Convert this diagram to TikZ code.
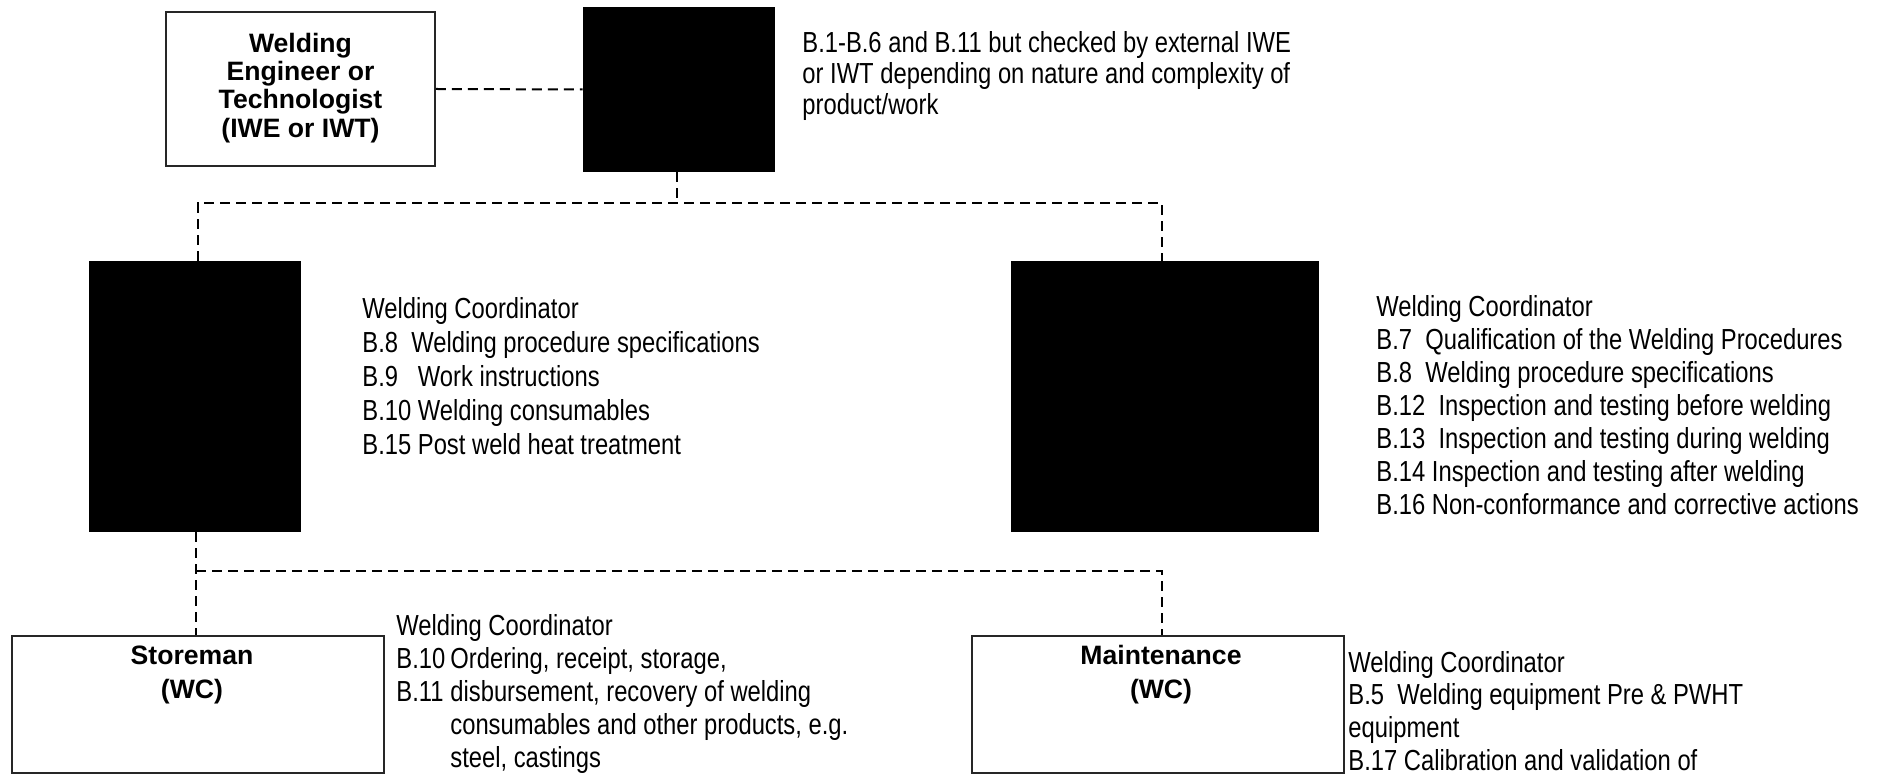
\documentclass[tikz,border=0pt]{standalone}
\usepackage{fontspec}
\setmainfont{Liberation Sans}
\newfontfamily\nf{Liberation Sans}[FakeStretch=0.82]
\begin{document}
\begin{tikzpicture}[x=0.5pt,y=-0.5pt,
  rbox/.style={draw=black!85, line width=0.8pt, inner sep=0pt, fill=white},
  blk/.style={fill=black, draw=none, inner sep=0pt},
  conn/.style={line width=1pt, dash pattern=on 5pt off 3pt},
  btext/.style={inner sep=0pt, font=\fontsize{13.3}{#1}\selectfont\bfseries},
  desc/.style={anchor=base west, inner sep=0pt, font=\nf\fontsize{14.5}{#1}\selectfont}]
\useasboundingbox (0,0) rectangle (1883,774);

% boxes
\node[rbox, btext=14.2pt, minimum width=134.5pt, minimum height=77pt] (we) at (300.5,89)
  {\begin{tabular}{@{}c@{}}Welding\\Engineer or\\Technologist\\(IWE or IWT)\end{tabular}};
\node[blk, minimum width=96pt, minimum height=82.5pt] (b1) at (679,89.5) {};
\node[blk, minimum width=106pt, minimum height=135.5pt] (b2) at (195,396.5) {};
\node[blk, minimum width=154pt, minimum height=135.5pt] (b3) at (1165,396.5) {};
\node[rbox, minimum width=186pt, minimum height=68.5pt] (st) at (198,704.5) {};
\node[rbox, minimum width=186pt, minimum height=68.5pt] (mt) at (1158,704.5) {};

% box labels
\node[btext=17pt, anchor=base] (stl) at (192,664)
  {\begin{tabular}[t]{@{}c@{}}Storeman\\(WC)\end{tabular}};
\node[btext=17pt, anchor=base] (mtl) at (1161,664)
  {\begin{tabular}[t]{@{}c@{}}Maintenance\\(WC)\end{tabular}};

% connectors
\coordinate (j1) at (677,203);
\coordinate (j3) at (1162,203);
\coordinate (j2) at (196,571);
\coordinate (j4) at (1162,571);
\draw[conn] (we.east) -- (b1.west);
\draw[conn] (b1.south -| j1) -- (j1);
\draw[conn] (b2.north -| 198,0) |- (j1) -- (j3) -- (j3 |- b3.north);
\draw[conn] (b2.south -| j2) -- (j2 |- st.north);
\draw[conn] (j2) -- (j4) -- (j4 |- mt.north);

% descriptions
\node[desc=15.5pt] (t1) at (802,53)
  {\begin{tabular}[t]{@{}l@{}}B.1-B.6 and B.11 but checked by external IWE\\
   or IWT depending on nature and complexity of\\
   product/work\end{tabular}};
\node[desc=16.9pt] (t2) at (362,319)
  {\begin{tabular}[t]{@{}l@{}}Welding Coordinator\\
   B.8~~Welding procedure specifications\\
   B.9~~~Work instructions\\
   B.10 Welding consumables\\
   B.15 Post weld heat treatment\end{tabular}};
\node[desc=16.5pt] (t3) at (1376,317)
  {\begin{tabular}[t]{@{}l@{}}Welding Coordinator\\
   B.7~~Qualification of the Welding Procedures\\
   B.8~~Welding procedure specifications\\
   B.12~~Inspection and testing before welding\\
   B.13~~Inspection and testing during welding\\
   B.14 Inspection and testing after welding\\
   B.16 Non-conformance and corrective actions\end{tabular}};
\node[desc=16.5pt] (t4) at (396,635)
  {\begin{tabular}[t]{@{}l@{}}Welding Coordinator\\
   \makebox[27pt][l]{B.10}Ordering, receipt, storage,\\
   \makebox[27pt][l]{B.11}disbursement, recovery of welding\\
   \hspace*{27pt}consumables and other products, e.g.\\
   \hspace*{27pt}steel, castings\end{tabular}};
\node[desc=16.4pt] (t5) at (1348,672)
  {\begin{tabular}[t]{@{}l@{}}Welding Coordinator\\
   B.5~~Welding equipment Pre \& PWHT\\
   equipment\\
   B.17 Calibration and validation of\end{tabular}};
\end{tikzpicture}
\end{document}
